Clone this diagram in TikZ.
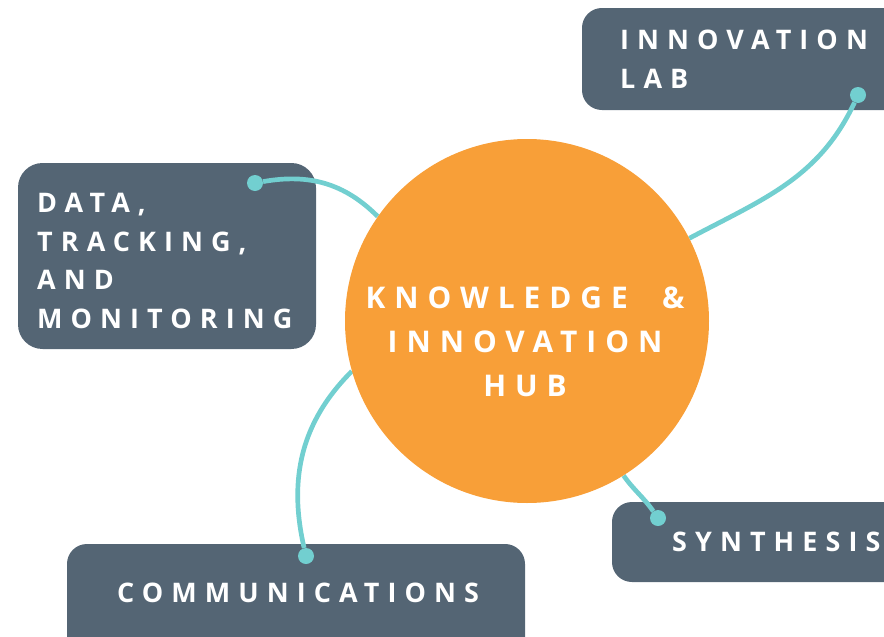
\documentclass[tikz,border=0pt]{standalone}
\usepackage{fontspec}
\newfontfamily\hubfont[LetterSpace=30]{Open Sans}
\definecolor{slate}{HTML}{546574}
\definecolor{huborange}{HTML}{F89F38}
\definecolor{linkteal}{HTML}{72CFD0}

\begin{document}
\begin{tikzpicture}[x=0.03cm, y=-0.03cm,
    box/.style={fill=slate, rounded corners=17pt},
    boxtext/.style={font=\hubfont\bfseries\fontsize{23}{33}\selectfont, text=white, align=left, inner sep=0pt},
    link/.style={draw=linkteal, line width=4pt},
    linkdot/.style={circle, fill=linkteal, inner sep=0pt, minimum size=0.48cm}]
		%%%%% START %%%%%
		\useasboundingbox (0,0) rectangle (884,637);
		\clip (0,0) rectangle (884,637);
		
		% boxes
		\fill[box] (582,8) rectangle (910,110);
		\fill[box, rounded corners=21pt] (18,163) rectangle (316,349);
		\fill[box] (67,544) rectangle (525,670);
		\fill[box] (612,502) rectangle (910,582);
		
		% dots on the boxes
		\node[linkdot] (labdot) at (858,95) {};
		\node[linkdot] (datadot) at (255,183) {};
		\node[linkdot] (commdot) at (306,556) {};
		\node[linkdot] (synthdot) at (658,518) {};
		
		% hub
		\node[circle, minimum size=10.92cm, inner sep=0pt] (hub) at (527,321) {};
		
		% connectors
		\draw[link] (labdot) to[out=245, in=28] (hub.27);
		\draw[link] (datadot) to[out=10, in=135] (hub.145);
		\draw[link] (commdot) to[out=103, in=225] (hub.196);
		\draw[link] (synthdot) to[out=125, in=-55] (hub.302);
		\fill[huborange] (hub.center) circle (182);
		
		% texts
		\node[boxtext, anchor=north west] (labtext) at (620,30) {INNOVATION\\LAB};
		\node[boxtext, anchor=north west] (datatext) at (37,193) {DATA,\\TRACKING,\\AND\\MONITORING};
		\node[boxtext, anchor=base west] (commtext) at (117,602) {COMMUNICATIONS};
		\node[boxtext, anchor=base west] (synthtext) at (672,551) {SYNTHESIS};
		\node[boxtext, align=center, font=\hubfont\bfseries\fontsize{25.5}{37.5}\selectfont] (hubtext) at (525,342) {KNOWLEDGE\hspace{15pt} \&\\INNOVATION\\HUB};
		%%%%% END %%%%%
\end{tikzpicture}
\end{document}
